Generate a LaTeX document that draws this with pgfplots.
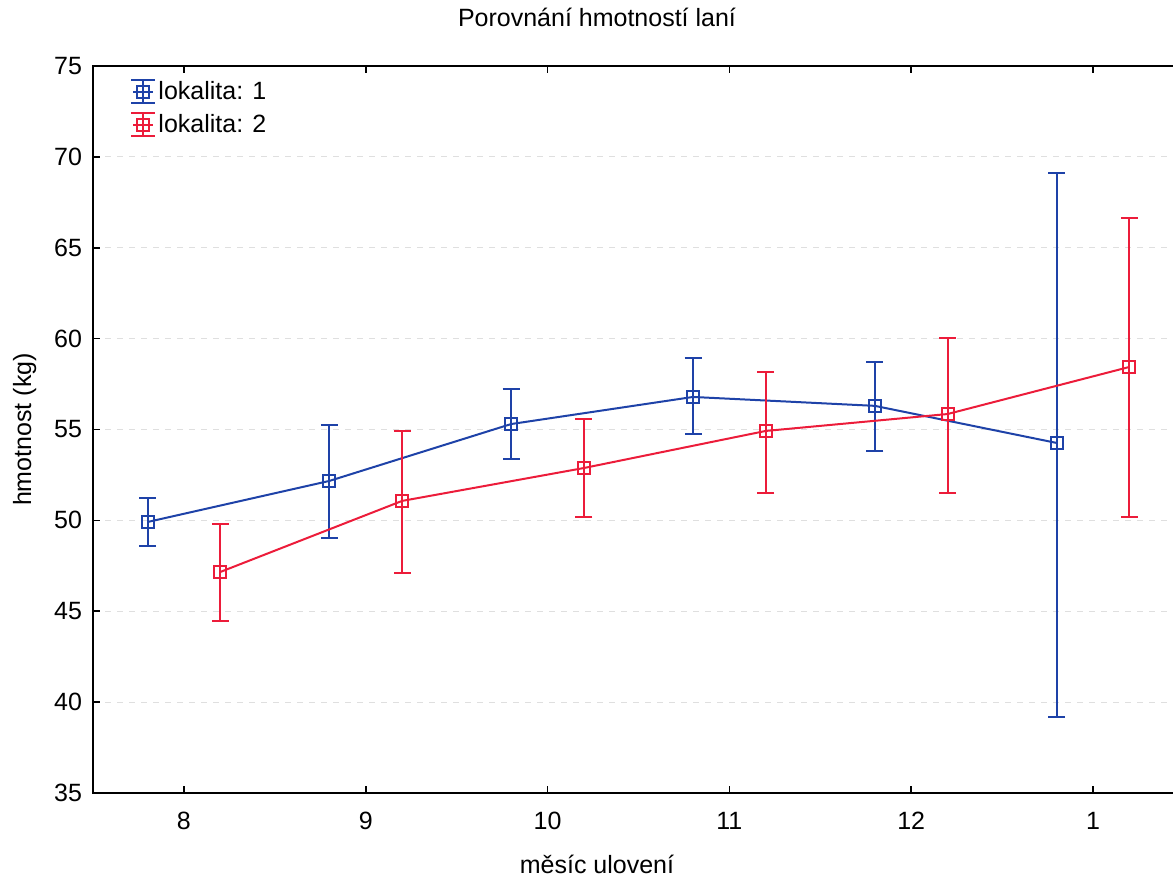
\documentclass[border=0pt]{standalone}
\usepackage{pgfplots}
\pgfplotsset{compat=1.18}
\usepackage{pgfplotstable}
\usepackage{fontspec}
\setmainfont{Liberation Sans}

\definecolor{locblue}{RGB}{30,66,168}
\definecolor{locred}{RGB}{236,28,58}

% month index (0 = Aug ... 5 = Jan), mean weight, error up / down
\pgfplotstableread{
x     y      ep     em
-0.2  49.91  1.32   1.32
0.8   52.17  3.08   3.14
1.8   55.30  1.93   1.92
2.8   56.79  2.14   2.04
3.8   56.30  2.42   2.48
4.8   54.26  14.85  15.08
}\lokA
\pgfplotstableread{
x     y      ep     em
0.2   47.16  2.64   2.70
1.2   51.07  3.85   3.97
2.2   52.88  2.70   2.69
3.2   54.92  3.24   3.41
4.2   55.85  4.18   4.34
5.2   58.44  8.20   8.25
}\lokB

\begin{document}
\begin{tikzpicture}
\begin{axis}[
  scale only axis,
  width=545.45pt, height=363.5pt,
  xmin=-0.5, xmax=5.5,
  ymin=35, ymax=75,
  axis line style={line width=0.9pt, black},
  tick align=inside,
  major tick length=3.5pt,
  tick style={black, line width=0.8pt},
  xtick={0,1,2,3,4,5},
  xticklabels={8,9,10,11,12,1},
  ytick={35,40,...,75},
  ytick pos=left,
  ymajorgrids,
  grid style={gray!25, dashed, line width=0.5pt},
  ticklabel style={font=\fontsize{12.5}{15}\selectfont},
  /pgf/number format/assume math mode=true,
  xticklabel style={yshift=-6pt},
  yticklabel style={xshift=-2pt},
  title={Porovnání hmotností laní},
  title style={at={(axis description cs:0.462,1)}, anchor=south, yshift=10pt,
               font=\fontsize{12.5}{15}\selectfont},
  xlabel={měsíc ulovení},
  xlabel style={at={(axis description cs:0.462,0)}, anchor=north, yshift=-31pt,
                inner sep=0pt, font=\fontsize{12.5}{15}\selectfont},
  ylabel={hmotnost (kg)},
  ylabel style={font=\fontsize{12.5}{15}\selectfont, yshift=2pt},
  legend cell align=left,
  legend style={at={(axis description cs:0.034,0.985)}, anchor=north west,
                draw=none, fill=none, font=\fontsize{12.5}{15}\selectfont,
                row sep=2pt, inner sep=0pt, column sep=0pt,
                nodes={inner xsep=1pt}},
  legend image code/.code={
    \draw[#1, mark=none] (0pt,-5.75pt) -- (0pt,5.75pt)
      (-6pt,5.75pt) -- (6pt,5.75pt) (-6pt,-5.75pt) -- (6pt,-5.75pt)
      (-5pt,0pt) -- (5pt,0pt);
    \draw[#1, only marks] plot coordinates {(0pt,0pt)};
  },
]
\addplot[locblue, line width=1pt, mark=square, mark size=3pt,
  mark options={fill=white, solid},
  error bars/.cd, y dir=both, y explicit,
  error bar style={line width=1pt, locblue},
  error mark options={rotate=90, mark size=4.25pt, line width=1pt, locblue}]
  table[x=x, y=y, y error plus=ep, y error minus=em] {\lokA};
\addlegendentry{lokalita: 1}
\addplot[locred, line width=1pt, mark=square, mark size=3pt,
  mark options={fill=white, solid},
  error bars/.cd, y dir=both, y explicit,
  error bar style={line width=1pt, locred},
  error mark options={rotate=90, mark size=4.25pt, line width=1pt, locred}]
  table[x=x, y=y, y error plus=ep, y error minus=em] {\lokB};
\addlegendentry{lokalita: 2}
\end{axis}
% the page ends just short of the right-hand frame line
\pgfresetboundingbox
\useasboundingbox ([xshift=-46.5pt, yshift=-45.5pt]current axis.south west)
  rectangle ([xshift=-5.45pt, yshift=33pt]current axis.north east);
\end{tikzpicture}
\end{document}
